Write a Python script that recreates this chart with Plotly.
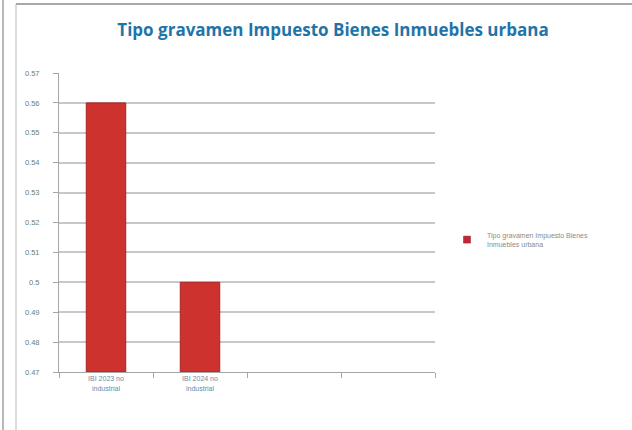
import plotly.graph_objects as go

categories = ["IBI 2023 no<br>industrial", "IBI 2024 no<br>industrial", " ", "  "]
values = [0.56, 0.50, None, None]
series_name = "Tipo gravamen Impuesto Bienes<br>Inmuebles urbana"
title_text = "Tipo gravamen Impuesto Bienes Inmuebles urbana"
tick_vals = [0.47, 0.48, 0.49, 0.50, 0.51, 0.52, 0.53, 0.54, 0.55, 0.56, 0.57]
tick_text = ["0.47", "0.48", "0.49", "0.5", "0.51", "0.52", "0.53", "0.54", "0.55", "0.56", "0.57"]
y_base = 0.47

W, H = 632, 430
L, R, T, B = 59, 435, 73, 372

def px(x):
    return (x - L) / (R - L)

def py(y):
    return (B - y) / (B - T)

fig = go.Figure()
fig.add_trace(go.Bar(
    x=categories,
    y=[v - y_base if v is not None else None for v in values],
    base=y_base,
    name=series_name,
    marker=dict(color="#CD322E", line=dict(color="#A82422", width=1)),
    showlegend=False,
))
# legend entry with a small square marker, like the original
fig.add_trace(go.Scatter(
    x=[None], y=[None], mode="markers", name=series_name,
    marker=dict(symbol="square", size=7, color="#C0283A", line=dict(color="#9A1F2A", width=0.5)),
    showlegend=True,
))

fig.update_layout(
    width=W, height=H,
    margin=dict(l=L, r=W - R, t=T, b=H - B, autoexpand=False),
    paper_bgcolor="white", plot_bgcolor="white",
    bargap=0.58,
    title=dict(text="<b>" + title_text + "</b>", x=px(333), xref="paper", xanchor="center",
               y=1 - 30 / H, yanchor="middle",
               font=dict(family="Open Sans, Liberation Sans, sans-serif", size=17, color="#1F74A8")),
    font=dict(family="Liberation Sans, Arial, sans-serif", size=7, color="#6E7E6E"),
    showlegend=True,
    legend=dict(x=px(447), y=py(240), xanchor="left", yanchor="middle",
                font=dict(size=7, color="#8A8A8A"), bgcolor="rgba(0,0,0,0)",
                itemwidth=30, tracegroupgap=0),
    xaxis=dict(type="category", categoryorder="array", categoryarray=categories,
               showline=True, linecolor="#A6A6A6", linewidth=1,
               ticks="outside", ticklen=5, tickcolor="#A6A6A6", tickson="boundaries",
               tickfont=dict(size=7, color="#6A8AA8"), showgrid=False,
               range=[-0.5, 3.5], automargin=False),
    yaxis=dict(range=[0.47, 0.57], tickvals=tick_vals, ticktext=tick_text,
               showline=True, linecolor="#A6A6A6", linewidth=1,
               ticks="outside", ticklen=5, tickcolor="#A6A6A6",
               ticklabelstandoff=12,
               showgrid=True, gridcolor="#C8C8C8", gridwidth=1.5,
               tickfont=dict(size=7.5, color="#6E7E6E"), zeroline=False, automargin=False),
    shapes=[
        dict(type="line", xref="paper", yref="paper", x0=px(3), x1=px(3), y0=py(0), y1=py(430),
             line=dict(color="#A0A0A0", width=1.5)),
        dict(type="line", xref="paper", yref="paper", x0=px(16), x1=px(16), y0=py(4), y1=py(430),
             line=dict(color="#B8B8B8", width=1)),
        dict(type="line", xref="paper", yref="paper", x0=px(16), x1=px(632), y0=py(4), y1=py(4),
             line=dict(color="#A8A8A8", width=2)),
    ],
)

fig.write_html("out.html", config={"displayModeBar": False},
               post_script="document.body.style.margin='0';document.body.style.overflow='hidden';")
